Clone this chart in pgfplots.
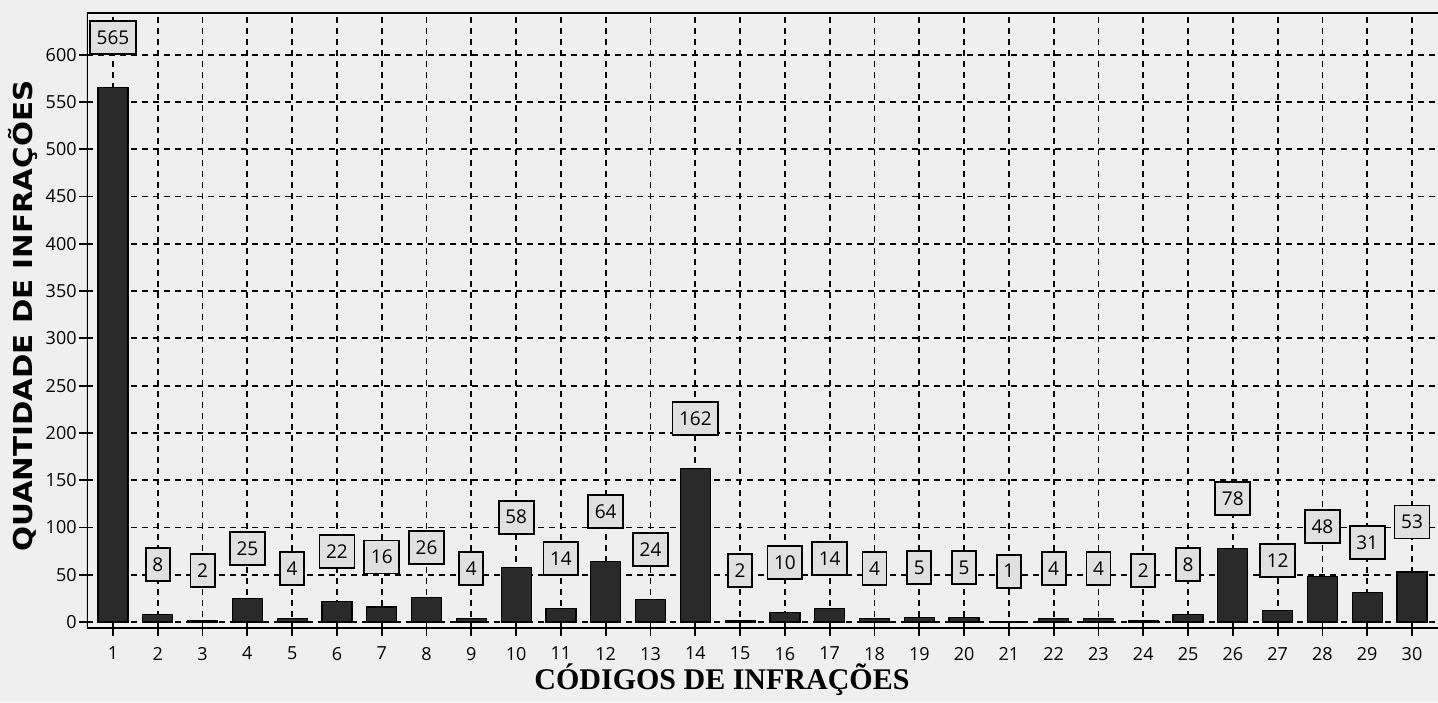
\documentclass[border=0pt]{standalone}
\usepackage{pgfplots}
\pgfplotsset{compat=1.18}
\usepackage{fontspec}
\setmainfont{Open Sans}
\newfontfamily\xlabfont{Liberation Serif}
\newfontfamily\ylabfont{DejaVu Sans}
\definecolor{bg}{HTML}{EFEFEF}
\definecolor{barc}{HTML}{2A2A2A}
\definecolor{boxc}{HTML}{E0E0E0}
\begin{document}
\begin{tikzpicture}
\fill[bg] (-43.5pt,-37pt) rectangle (675.5pt,314pt);
\begin{axis}[
  at={(0,0)}, anchor=south west,
  scale only axis, width=675.5pt, height=307.5pt,
  xmin=0.42, xmax=30.58, ymin=-6.3, ymax=644,
  axis line style={draw=none},
  ybar, bar width=15pt, bar shift=0pt,
  xtick={1,...,30}, ytick={0,50,...,600},
  xtick pos=bottom, ytick pos=left,
  tick align=outside, major tick length=4pt,
  tick style={black, line width=0.9pt},
  grid=major,
  major grid style={black, line width=0.9pt, dash pattern=on 3pt off 2.5pt},
  tick label style={font=\fontsize{9}{10}\selectfont},
  xticklabel style={yshift=-2pt},
  yticklabel style={inner xsep=1pt},
  /pgf/number format/assume math mode=true,
  xlabel={\xlabfont\bfseries\fontsize{15}{16}\selectfont CÓDIGOS DE INFRAÇÕES},
  xlabel style={at={(axis description cs:0.470,-0.1008)}, anchor=base},
  ylabel={\scalebox{1.13}[1]{\ylabfont\bfseries\fontsize{13}{14}\selectfont QUANTIDADE DE INFRAÇÕES}},
  ylabel style={at={(axis description cs:-0.040,0.507)}, anchor=base},
  nodes near coords,
  every node near coord/.append style={draw=black, fill=boxc, line width=0.9pt,
     anchor=center, yshift=25pt, font=\fontsize{9.5}{10}\selectfont,
     inner xsep=3.3pt, inner ysep=0pt, minimum height=16.5pt},
]
\addplot[fill=barc, draw=black, line width=0.6pt] coordinates {
(1,565) (2,8) (3,2) (4,25) (5,4) (6,22) (7,16) (8,26) (9,4) (10,58)
(11,14) (12,64) (13,24) (14,162) (15,2) (16,10) (17,14) (18,4) (19,5) (20,5)
(21,1) (22,4) (23,4) (24,2) (25,8) (26,78) (27,12) (28,48) (29,31) (30,53)
};
\draw[black, line width=1pt] (rel axis cs:1,1) -- (rel axis cs:0,1) -- (rel axis cs:0,0) -- (rel axis cs:1,0);
\end{axis}
\pgfresetboundingbox
\path (-43.5pt,-37pt) rectangle (675.5pt,314pt);
\end{tikzpicture}
\end{document}
